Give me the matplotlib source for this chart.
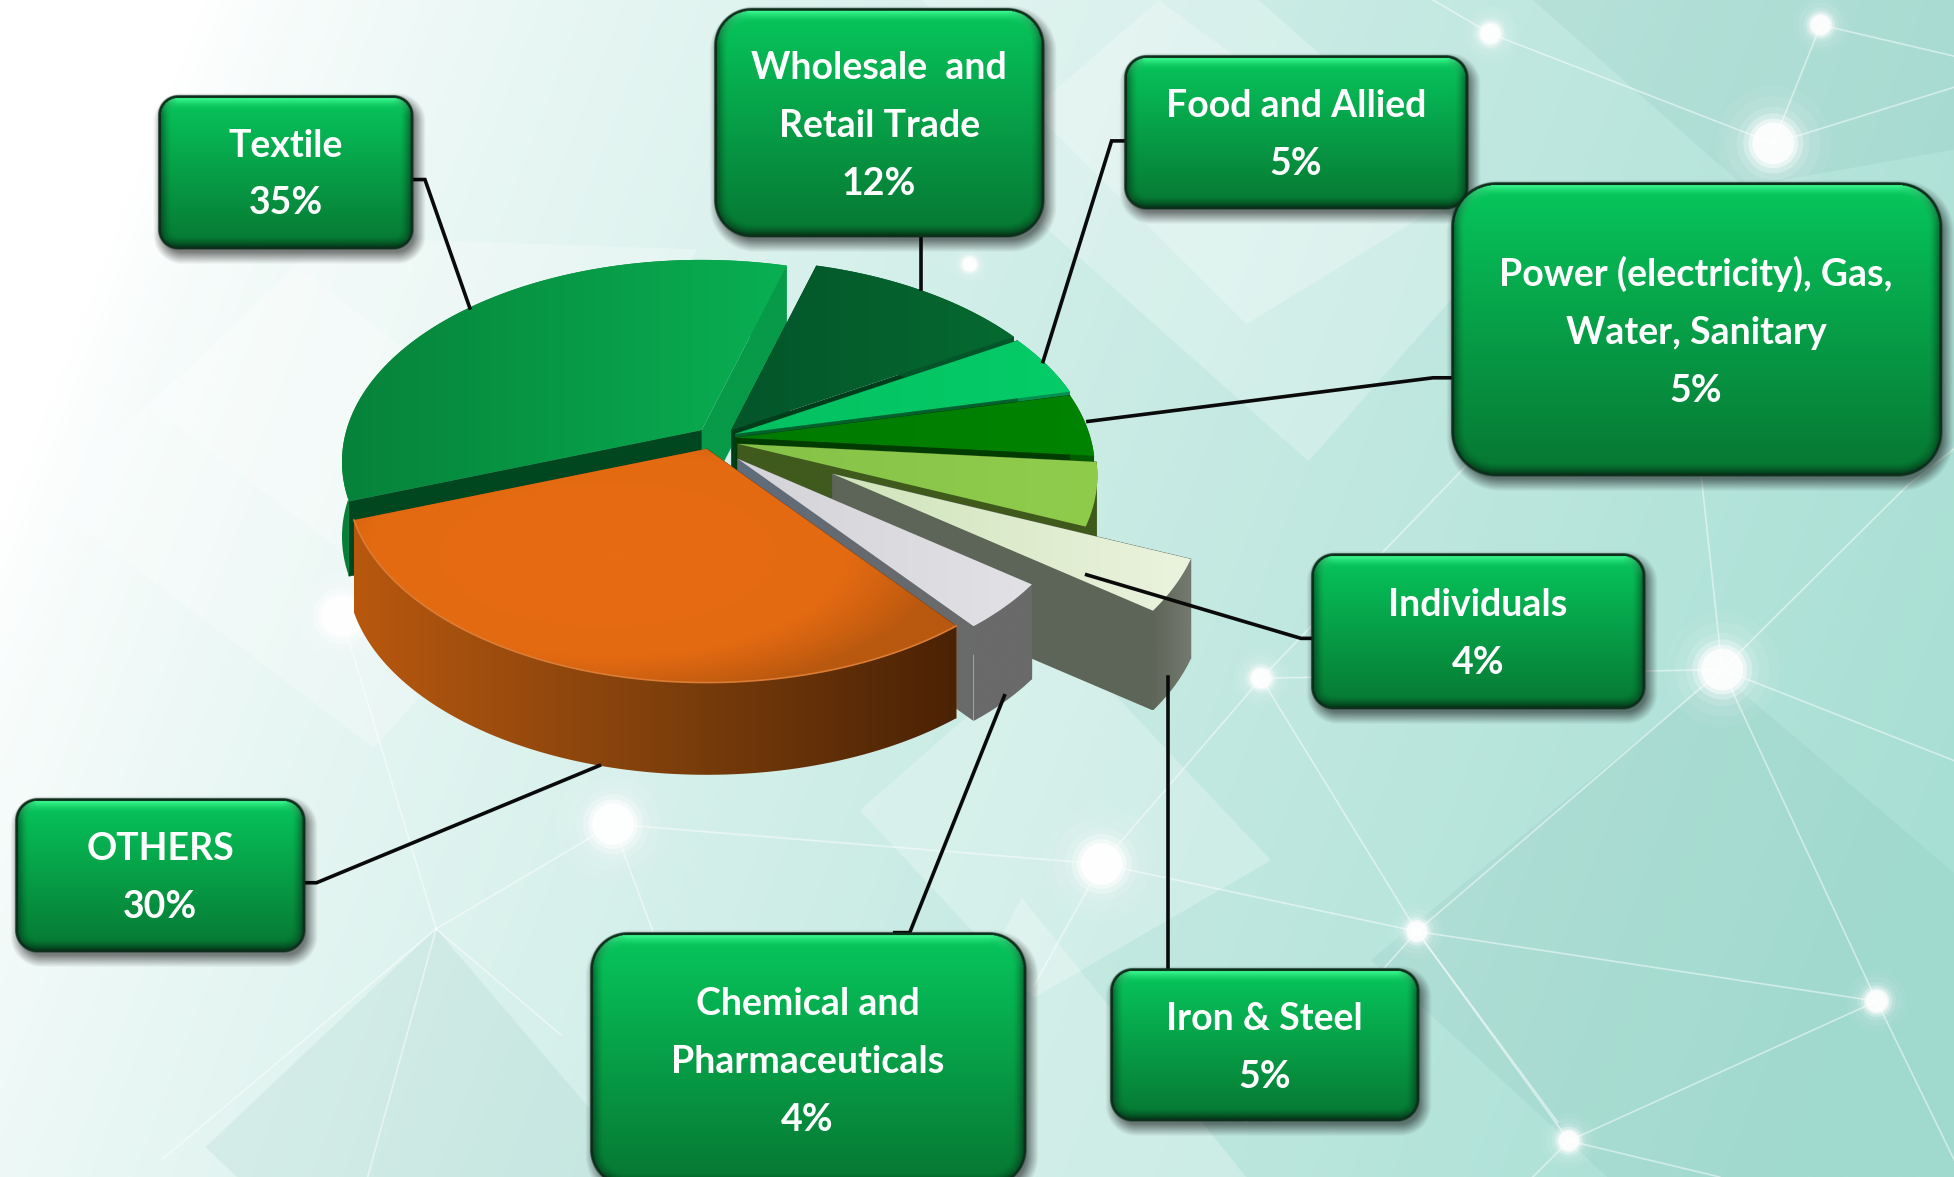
import numpy as np
import matplotlib
matplotlib.use('Agg')
import matplotlib.pyplot as plt
from matplotlib.colors import LinearSegmentedColormap, to_rgb
from matplotlib.patches import Polygon, Circle

# shares, clockwise from the top of the pie
categories = ['Wholesale and Retail Trade', 'Food and Allied', 'Power', 'Iron & Steel',
              'Individuals', 'Chemical', 'OTHERS', 'Textile']
shares = [12, 5, 5, 5, 4, 4, 30, 35]

box_names = ['Textile', 'Wholesale  and\nRetail Trade', 'Food and Allied',
             'Power (electricity), Gas,\nWater, Sanitary', 'Individuals', 'Iron & Steel',
             'Chemical and\nPharmaceuticals', 'OTHERS']
box_shares = [35, 12, 5, 5, 4, 5, 4, 30]

# box layout: x0, y0, x1, y1, corner radius
box_rects = [(127, 76, 332, 200, 16), (573, 7, 838, 191, 30), (902, 44, 1178, 168, 18),
             (1164, 146, 1558, 382, 36), (1052, 444, 1320, 569, 18), (891, 777, 1139, 900, 18),
             (473, 748, 823, 952, 30), (12, 640, 245, 764, 18)]
leaders = [[(332, 144), (341, 144), (377, 247)],
           [(739, 191), (739, 232)],
           [(902, 113), (892, 113), (837, 290)],
           [(1164, 303), (1150, 303), (873, 338)],
           [(1052, 512), (1044, 512), (872, 461)],
           [(937, 777), (937, 543)],
           [(718, 748), (730, 748), (806, 558)],
           [(245, 708), (254, 708), (481, 614)]]

W, H = 1568, 944
START = 74
R, RY, PERSP = 285, 158, 0.157

apexes = [(587, 345), (590, 348), (590, 351), (592, 356), (668, 380), (592, 368), (567, 360), (563, 345)]
scales = [1, 1, 1, 1, 1.03, 0.945, 1, 1]
depths = [74, 74, 74, 74, 80, 76, 74, 60]
tops = [['#03552a', '#066a30'], ['#04c060', '#05cc68'], ['#007a00', '#008400'], ['#86c248', '#90cc4c'],
        ['#cfe4ba', '#ebf3de'], ['#d4d4d8', '#e2e2e6'], None, ['#06823a', '#09b052']]
# cut face at the start and at the end of each slice
start_walls = ['#013d1b', '#02622f', '#004000', '#3f5a1c', '#5d6558', '#6a6a6a', '#7a3a0b', '#00471f']
end_walls = [['#013d1b', '#013d1b'], ['#02622f', '#02622f'], ['#003c00', '#003c00'], ['#3f5a1c', '#3f5a1c'],
             ['#5d6558', '#5d6558'], ['#5f6d7c', '#666a70', '#6a6a6a'], ['#7a3a0b', '#7a3a0b'], ['#079a48', '#079a48']]
side_walls = [['#03552a', '#03552a'], ['#049050', '#049050'], ['#005c00', '#005c00'], ['#3f5a1c', '#3f5a1c'],
              ['#5f6558', '#757a70'], ['#6a6a6a', '#6a6a6a'], ['#b8580f', '#80400c', '#4a2205'],
              ['#067f38'] * 9 + ['#079a48', '#079a48']]
draw_order = [7, 0, 1, 2, 3, 4, 5, 6]

plt.rcParams['font.family'] = ['Lato', 'DejaVu Sans']
fig = plt.figure(figsize=(19.54, 11.77), dpi=100)
ax = fig.add_axes([0, 0, 1, 1])
ax.axis('off')


def project(theta, apex, scale=1.0):
    t = np.radians(theta)
    s = 1 / (1 + PERSP * np.sin(t))
    return apex[0] + R * scale * np.cos(t) * s, apex[1] - RY * scale * np.sin(t) * s


def grad_poly(xs, ys, stops, z, mode='h'):
    xs, ys = np.asarray(xs, float), np.asarray(ys, float)
    x0, x1, y0, y1 = xs.min(), xs.max(), ys.min(), ys.max()
    cmap = LinearSegmentedColormap.from_list('g', stops)
    gx, gy = np.meshgrid(np.linspace(0, 1, 256), np.linspace(0, 1, 256))
    if mode == 'h':
        arr = gx
    else:
        # radial, for the big orange slice
        arr = np.clip(np.hypot((gx - 0.42) / 0.56, (gy - 0.45) / 0.62) ** 2, 0, 1)
    im = ax.imshow(arr, extent=(x0, x1, y1, y0), cmap=cmap, aspect='auto', zorder=z, vmin=0, vmax=1)
    patch = Polygon(np.column_stack([xs, ys]), closed=True, fc='none', ec='none', zorder=z)
    ax.add_patch(patch)
    im.set_clip_path(patch)


def draw_background():
    gx, gy = np.meshgrid(np.linspace(0, 1, 400), np.linspace(0, 1, 240))
    t = np.clip(0.95 * gx + 0.22 * gy - 0.1, 0, 1) ** 0.75
    low, high = np.array(to_rgb('#ffffff')), np.array(to_rgb('#a8dfd4'))
    img = low + (high - low) * t[..., None]
    ax.imshow(img, extent=(0, W, H, 0), aspect='auto', zorder=0, interpolation='bilinear')
    light = [[(35, 400), (240, 215), (480, 400), (300, 600)],
             [(120, 325), (260, 190), (560, 200), (350, 500)],
             [(740, 0), (1010, 0), (1180, 150), (1000, 260)],
             [(690, 650), (850, 510), (1020, 690), (830, 800)],
             [(820, 720), (1000, 944), (700, 944)],
             [(930, 0), (1200, 200), (1050, 370), (780, 130)]]
    for p in light:
        ax.add_patch(Polygon(p, closed=True, fc='white', ec='none', alpha=0.25, zorder=0.5))
    dark = [[(165, 920), (350, 745), (520, 944), (190, 944)],
            [(1100, 770), (1380, 540), (1568, 700), (1568, 944), (1290, 944)],
            [(1230, 0), (1568, 0), (1568, 120), (1400, 150)]]
    for p in dark:
        ax.add_patch(Polygon(p, closed=True, fc='#5fa79c', ec='none', alpha=0.1, zorder=0.5))
    nodes = {'a': (1196, 27, 10), 'b': (1461, 20, 10), 'c': (1423, 115, 21), 'd': (1382, 537, 21),
             'e': (1012, 544, 10), 'f': (1137, 747, 10), 'g': (1506, 803, 11), 'h': (1259, 915, 10),
             'i': (884, 693, 21), 'j': (492, 661, 21), 'k': (274, 494, 20), 'l': (778, 212, 7)}
    edges = [('a', 'c'), ('b', 'c'), ('d', 'f'), ('d', 'g'), ('e', 'f'), ('f', 'g'), ('f', 'h'), ('g', 'h'),
             ('i', 'j'), ('i', 'e'), ('e', 'd'), ('f', 'i')]
    for p, q in edges:
        ax.plot([nodes[p][0], nodes[q][0]], [nodes[p][1], nodes[q][1]], color='white', lw=1.2, alpha=0.5, zorder=0.7)
    free = [[(1196, 27), (1150, 0)], [(1461, 20), (1568, 45)], [(1423, 115), (1568, 70)], [(1382, 537), (1530, 390)],
            [(1382, 537), (1365, 380)], [(1382, 537), (1568, 610)], [(1012, 544), (1180, 370)], [(1506, 803), (1568, 930)],
            [(1137, 747), (1000, 900)], [(492, 661), (350, 745)], [(492, 661), (525, 750)], [(274, 494), (350, 745)],
            [(350, 745), (295, 944)], [(350, 745), (130, 930)], [(350, 745), (450, 830)], [(884, 693), (830, 790)],
            [(1259, 915), (1230, 944)], [(1137, 747), (1250, 900)], [(1530, 390), (1568, 360)], [(1259, 915), (1380, 944)]]
    for s in free:
        ax.plot(*zip(*s), color='white', lw=1.2, alpha=0.5, zorder=0.7)
    for x, y, r in nodes.values():
        for k, a in [(2.2, 0.05), (1.8, 0.08), (1.4, 0.14), (1.15, 0.3), (0.95, 0.5), (0.8, 0.85)]:
            ax.add_patch(Circle((x, y), r * k, fc='white', ec='none', alpha=a, zorder=0.8))


def draw_slice(i, a0, a1, z):
    th = np.linspace(a0, a1, 90)
    arc_x, arc_y = project(th, apexes[i], scales[i])
    ap, dp = apexes[i], depths[i]
    # cut faces at both ends of the slice
    ax.fill([ap[0], arc_x[0], arc_x[0], ap[0]], [ap[1], arc_y[0], arc_y[0] + dp, ap[1] + dp],
            color=start_walls[i], lw=0.5, zorder=z)
    grad_poly([ap[0], arc_x[-1], arc_x[-1], ap[0]], [ap[1], arc_y[-1], arc_y[-1] + dp, ap[1] + dp],
              end_walls[i], z + 0.05)
    grad_poly(np.r_[arc_x, arc_x[::-1]], np.r_[arc_y, arc_y[::-1] + dp], side_walls[i], z + 0.1)
    xs, ys = np.r_[ap[0], arc_x], np.r_[ap[1], arc_y]
    if tops[i] is None:
        grad_poly(xs, ys, ['#e66b12', '#e46a12', '#b9580f'], z + 0.2, mode='r')
        ax.plot(arc_x, arc_y, color='#dc7d35', lw=1.2, zorder=z + 0.3)
    else:
        grad_poly(xs, ys, tops[i], z + 0.2)


def draw_box(rect, text, z):
    x0, y0, x1, y1, r = rect
    cx, cy, hw, hh = (x0 + x1) / 2, (y0 + y1) / 2, (x1 - x0) / 2, (y1 - y0) / 2
    pad = 16
    xs = np.arange(x0 - pad, x1 + pad, 0.5)
    ys = np.arange(y0 - pad, y1 + pad, 0.5)
    px, py = np.meshgrid(xs, ys)

    def sdf(ox, oy):
        qx, qy = np.abs(px - cx - ox) - (hw - r), np.abs(py - cy - oy) - (hh - r)
        return np.hypot(np.maximum(qx, 0), np.maximum(qy, 0)) + np.minimum(np.maximum(qx, qy), 0) - r

    ext = (xs[0], xs[-1], ys[-1], ys[0])
    shadow = np.zeros(px.shape + (4,))
    shadow[..., 3] = np.clip((7 - sdf(3, 5)) / 10, 0, 1) * 0.5
    ax.imshow(shadow, extent=ext, aspect='auto', zorder=z)

    d = sdf(0, 0)
    dy, dx = np.gradient(d)
    norm = np.hypot(dx, dy) + 1e-9
    nx, ny = dx / norm, dy / norm
    t = np.clip((py - y0) / (y1 - y0), 0, 1)[..., None]
    top, bottom = np.array(to_rgb('#07c75c')), np.array(to_rgb('#067632'))
    base = top + (bottom - top) * t
    bevel = np.clip(1 + d / 11, 0, 1) ** 1.5
    light = (bevel * np.maximum(-ny, 0))[..., None]
    darks = (bevel * np.maximum(np.maximum(ny, 0), np.abs(nx) * 0.8))[..., None]
    rgb = base + light * 0.3
    rgb = rgb * (1 - darks * 0.7)
    edge = (d > -2.2)
    rgb[edge] = to_rgb('#0d2f1c')
    img = np.dstack([np.clip(rgb, 0, 1), np.clip(0.5 - d, 0, 1)])
    ax.imshow(img, extent=ext, aspect='auto', zorder=z + 0.1)
    ax.text(cx, cy + 2, text, color='white', ha='center', va='center', fontsize=27, fontweight='bold',
            linespacing=1.85, zorder=z + 0.2)


draw_background()

edges = START - np.cumsum([0] + shares) * 3.6
for n, i in enumerate(draw_order):
    draw_slice(i, edges[i], edges[i + 1], 2 + n)

for pts in leaders:
    ax.plot(*zip(*pts), color='#0a0a0a', lw=2.6, zorder=12, solid_joinstyle='miter')

for n, (rect, name, share) in enumerate(zip(box_rects, box_names, box_shares)):
    draw_box(rect, name + '\n' + str(share) + '%', 13 + n)

ax.set_xlim(0, W)
ax.set_ylim(H, 0)
fig.savefig('out.png', dpi=100)
